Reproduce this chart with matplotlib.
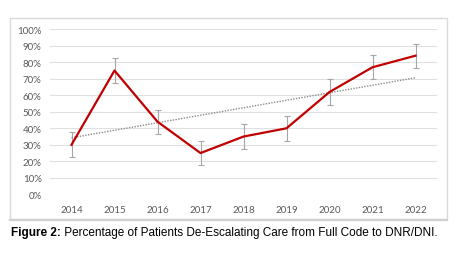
import numpy as np
import matplotlib
matplotlib.use("Agg")
import matplotlib.pyplot as plt
from matplotlib.patches import Rectangle

years = ["2014", "2015", "2016", "2017", "2018", "2019", "2020", "2021", "2022"]
pct = [30, 75, 44, 25, 35, 40, 62, 77, 84]
err = [7.5, 7.5, 7.3, 7.5, 7.5, 7.5, 7.6, 7.3, 7.3]
yticks = [0, 10, 20, 30, 40, 50, 60, 70, 80, 90, 100]

fig = plt.figure(figsize=(4.7, 2.55), dpi=100)
fig.patch.set_facecolor("white")

# chart border
fig.add_artist(Rectangle((0.0213, 0.137), 0.93, 0.788, transform=fig.transFigure,
                         fill=False, edgecolor="#d9d9d9", linewidth=1.0))
fig.add_artist(plt.Line2D([0.0213, 0.951], [0.135, 0.135], transform=fig.transFigure,
                          color="#d0d0d0", linewidth=1.6))

ax = fig.add_axes([0.1064, 0.2341, 0.8234, 0.6471])
x = np.arange(len(years))

ax.errorbar(x, pct, yerr=err, fmt="none", ecolor="#a6a6a6", elinewidth=0.8,
            capsize=2.2, capthick=0.8, zorder=2)
ax.plot(x, pct, color="#c00000", linewidth=1.6, zorder=3)

# linear trendline
k, b = np.polyfit(x, pct, 1)
ax.plot([x[0], x[-1]], [b, k * x[-1] + b], color="#8c8c8c", linewidth=1.0,
        linestyle=(0, (1, 1)), zorder=2.5)

ax.set_xlim(-0.5, len(years) - 0.5)
ax.set_ylim(0, 100)
ax.set_yticks(yticks)
ax.set_yticklabels([f"{v}%" for v in yticks])
ax.set_xticks(x)
ax.set_xticklabels(years)
ax.yaxis.grid(True, color="#e0e0e0", linewidth=0.8)
ax.set_axisbelow(True)
for s in ax.spines.values():
    s.set_visible(False)
ax.tick_params(axis="both", length=0, labelsize=7, labelcolor="#595959")
ax.tick_params(axis="y", pad=6)
ax.tick_params(axis="x", pad=8)
for lab in ax.get_xticklabels() + ax.get_yticklabels():
    lab.set_family("Lato")

# caption
t1 = fig.text(0.023, 0.086, "Figure 2:", fontsize=8.5, fontweight="bold",
              family="Liberation Sans", va="center", ha="left")
ax.annotate(" Percentage of Patients De-Escalating Care from Full Code to DNR/DNI.",
            xy=(1, 0.5), xycoords=t1, va="center", ha="left", fontsize=8.5,
            family="Liberation Sans", annotation_clip=False)

fig.savefig("out.png", dpi=100, facecolor="white")
